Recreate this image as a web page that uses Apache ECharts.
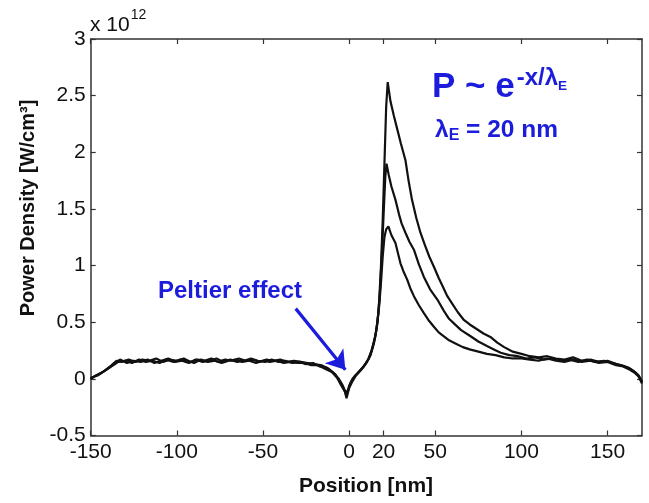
<!DOCTYPE html>
<html>
<head>
<meta charset="utf-8">
<script src="https://cdn.jsdelivr.net/npm/echarts@6/dist/echarts.min.js"></script>
<style>html,body{margin:0;padding:0;background:#fff;}#c{width:649px;height:503px;}</style>
</head>
<body>
<div id="c"></div>
<script>
// ---- data (x in nm, y in units of 1e12 W/cm^3) ----
const xTickValues = [-150, -100, -50, 0, 20, 50, 100, 150];
const yTickValues = [-0.5, 0, 0.5, 1, 1.5, 2, 2.5, 3];

const curveHigh = [[-150,0.01],[-146,0.03],[-142,0.07],[-138,0.12],[-135,0.16],[-132,0.15],[-128,0.17],[-124,0.15],[-120,0.17],[-116,0.16],[-112,0.18],[-108,0.15],[-104,0.17],[-100,0.16],[-96,0.18],[-92,0.15],[-88,0.17],[-84,0.16],[-80,0.18],[-76,0.15],[-72,0.17],[-68,0.16],[-64,0.18],[-60,0.16],[-56,0.17],[-52,0.15],[-48,0.17],[-44,0.16],[-40,0.17],[-36,0.15],[-32,0.16],[-28,0.15],[-24,0.14],[-20,0.13],[-16,0.12],[-12,0.09],[-8,0.04],[-5,-0.03],[-3,-0.09],[-1.5,-0.15],[0,-0.06],[2,0.0],[5,0.05],[8,0.10],[11,0.17],[13,0.25],[15,0.36],[16.5,0.5],[17.5,0.7],[18.5,1.0],[19.5,1.4],[20.5,1.9],[21.5,2.4],[22.4,2.62],[24,2.45],[26,2.32],[28,2.2],[30,2.08],[32.7,1.93],[34.5,1.75],[36.5,1.58],[39,1.42],[41.4,1.29],[44,1.18],[46.5,1.08],[49.2,0.99],[52,0.89],[54.5,0.81],[57,0.73],[60,0.66],[63,0.59],[66.6,0.52],[70,0.48],[74,0.44],[78,0.40],[82,0.37],[86,0.32],[90,0.28],[95,0.24],[100,0.22],[105,0.2],[110,0.19],[115,0.2],[120,0.18],[125,0.17],[130,0.19],[135,0.16],[140,0.17],[145,0.15],[150,0.16],[155,0.13],[160,0.11],[163,0.09],[166,0.06],[168,0.03],[170,-0.02]];

const curveMid = [[-150,0.0],[-147,0.03],[-143,0.06],[-139,0.1],[-136,0.14],[-133,0.17],[-129,0.14],[-125,0.16],[-121,0.15],[-117,0.17],[-113,0.14],[-109,0.16],[-105,0.18],[-101,0.15],[-97,0.16],[-93,0.14],[-89,0.17],[-85,0.15],[-81,0.16],[-77,0.18],[-73,0.15],[-69,0.17],[-65,0.15],[-61,0.16],[-57,0.18],[-53,0.16],[-49,0.15],[-45,0.17],[-41,0.15],[-37,0.16],[-33,0.14],[-29,0.15],[-25,0.13],[-21,0.14],[-17,0.11],[-13,0.1],[-9,0.05],[-6,0.0],[-4,-0.05],[-2,-0.12],[-0.5,-0.1],[1,-0.03],[3,0.02],[6,0.07],[9,0.12],[11.5,0.18],[13.5,0.27],[15.5,0.4],[17,0.58],[18,0.8],[19,1.1],[20,1.45],[21,1.78],[21.7,1.9],[23,1.8],[24.5,1.7],[26.9,1.58],[29,1.45],[30.5,1.37],[32.7,1.29],[35,1.21],[37.6,1.14],[40.5,1.01],[43.4,0.90],[47,0.79],[51.2,0.70],[55,0.60],[58,0.53],[60.8,0.49],[65,0.43],[70.5,0.376],[75,0.33],[80,0.29],[84,0.26],[88,0.23],[93,0.21],[98,0.2],[103,0.18],[108,0.19],[113,0.17],[118,0.18],[123,0.16],[128,0.17],[133,0.15],[138,0.17],[143,0.15],[148,0.16],[153,0.14],[158,0.12],[162,0.1],[165,0.07],[168,0.03],[170,-0.03]];

const curveLow = [[-150,0.0],[-148,0.02],[-144,0.05],[-140,0.09],[-137,0.12],[-134,0.15],[-130,0.16],[-126,0.14],[-122,0.17],[-118,0.15],[-114,0.16],[-110,0.14],[-106,0.17],[-102,0.15],[-98,0.17],[-94,0.16],[-90,0.14],[-86,0.17],[-82,0.15],[-78,0.16],[-74,0.14],[-70,0.16],[-66,0.17],[-62,0.15],[-58,0.16],[-54,0.14],[-50,0.16],[-46,0.15],[-42,0.16],[-38,0.14],[-34,0.15],[-30,0.14],[-26,0.14],[-22,0.12],[-18,0.12],[-14,0.09],[-10,0.06],[-7,0.01],[-4.5,-0.06],[-2.5,-0.11],[-1.5,-0.17],[0,-0.08],[2,-0.02],[4,0.03],[7,0.08],[10,0.14],[12.5,0.21],[14.5,0.32],[16,0.45],[17.5,0.65],[18.5,0.85],[19.5,1.08],[20.5,1.25],[21.5,1.32],[22.8,1.346],[24.5,1.27],[26.9,1.20],[28.5,1.1],[29.8,1.02],[31.5,0.95],[33.7,0.876],[35.5,0.8],[37.6,0.73],[40.5,0.65],[43.4,0.58],[46,0.52],[49.2,0.46],[52,0.41],[55,0.376],[58,0.34],[62,0.31],[66,0.28],[70,0.26],[75,0.24],[80,0.22],[85,0.21],[90,0.19],[95,0.18],[100,0.18],[105,0.17],[110,0.16],[115,0.18],[120,0.16],[125,0.15],[130,0.17],[135,0.15],[140,0.16],[145,0.14],[150,0.15],[155,0.12],[159,0.11],[163,0.08],[166,0.05],[168,0.02],[170,-0.04]];

// annotation arrow (data coords)
const arrowFrom = [-31, 0.62];
const arrowTo = [-2.2, 0.08];

// ---- chart ----
const FONT = '"Liberation Sans", Arial, Helvetica, sans-serif';
const BLUE = '#1c1cdc';
const AXC = '#333';
const chart = echarts.init(document.getElementById('c'), null, {renderer: 'canvas'});

const ctx = document.createElement('canvas').getContext('2d');
function tw(text, size, bold) {
  ctx.font = (bold ? 'bold ' : '') + size + 'px ' + FONT;
  return ctx.measureText(text).width;
}
// text placed by its alphabetic baseline
function tb(text, x, baseline, size, bold, fill, extra) {
  return Object.assign({type: 'text', x: x, y: baseline - 0.35 * size,
    style: {text: text, font: (bold ? 'bold ' : '') + size + 'px ' + FONT, fill: fill, verticalAlign: 'middle', align: 'left'}}, extra || {});
}

function baseX(pos, show) {
  return {
    type: 'value', position: pos, min: -150, max: 170,
    axisLine: {show: true, onZero: false, lineStyle: {color: AXC, width: 1.5}},
    axisTick: {show: true, inside: true, length: 5, customValues: xTickValues, lineStyle: {color: AXC, width: 1.2}},
    axisLabel: {show: show, customValues: xTickValues, margin: 6, fontSize: 21, color: '#111', fontFamily: FONT},
    splitLine: {show: false}
  };
}
function baseY(pos, show) {
  return {
    type: 'value', position: pos, min: -0.5, max: 3, interval: 0.5,
    axisLine: {show: true, onZero: false, lineStyle: {color: AXC, width: 1.5}},
    axisTick: {show: true, inside: true, length: 5, lineStyle: {color: AXC, width: 1.2}},
    axisLabel: {show: show, margin: 5, fontSize: 21, color: '#111', fontFamily: FONT},
    splitLine: {show: false}
  };
}

const lineStyle = {color: '#111', width: 2.2};
function mk(data) {
  return {type: 'line', data: data, showSymbol: false, symbol: 'none', lineStyle: lineStyle, animation: false, z: 3};
}

// formula layout
const fx = 432;
const wMain = tw('P ~ e', 35, true);
const wSup = tw('-x/λ', 24, true);
const lx = 435, lBase = 139;
const wLam = tw('λ', 24.5, true);
const wLamE = tw('E', 16, true);
const w10 = tw('x 10', 21, false);

const option = {
  backgroundColor: '#fff',
  animation: false,
  grid: {left: 90.7, right: 7, top: 39, bottom: 67.5, containLabel: false},
  xAxis: [baseX('bottom', true), baseX('top', false)],
  yAxis: [baseY('left', true), baseY('right', false)],
  series: [
    mk(curveHigh),
    mk(curveMid),
    mk(curveLow),
    {
      type: 'line', data: [], z: 4, animation: false,
      markLine: {
        silent: true, animation: false,
        symbol: ['none', 'arrow'], symbolSize: 18,
        lineStyle: {color: BLUE, width: 3.2, type: 'solid'},
        label: {show: false},
        data: [[{coord: arrowFrom, symbol: 'none'}, {coord: arrowTo, symbol: 'arrow', symbolSize: 18}]]
      }
    }
  ],
  graphic: [
    // x 10^12
    tb('x 10', 90, 33, 21, false, '#111'),
    tb('12', 90 + w10 + 1, 20, 14, false, '#111'),
    // y-axis name
    {type: 'text', x: 28, y: 208, rotation: Math.PI / 2,
      style: {text: 'Power Density [W/cm³]', font: 'bold 20px ' + FONT, fill: '#111', align: 'center', verticalAlign: 'middle'}},
    // x-axis name
    {type: 'text', x: 366, y: 486, style: {text: 'Position [nm]', font: 'bold 21px ' + FONT, fill: '#111', align: 'center', verticalAlign: 'middle'}},
    // formula
    tb('P ~ e', fx, 100, 35, true, BLUE),
    tb('-x/λ', fx + wMain + 2, 87, 24, true, BLUE),
    tb('E', fx + wMain + 2 + wSup, 91, 13.5, true, BLUE),
    // lambda_E = 20 nm
    tb('λ', lx, lBase, 24.5, true, BLUE),
    tb('E', lx + wLam, lBase + 2, 16, true, BLUE),
    tb(' = 20 nm', lx + wLam + wLamE, lBase, 24.5, true, BLUE),
    // Peltier effect
    tb('Peltier effect', 158, 300, 24, true, BLUE)
  ]
};
chart.setOption(option);
</script>
</body>
</html>
